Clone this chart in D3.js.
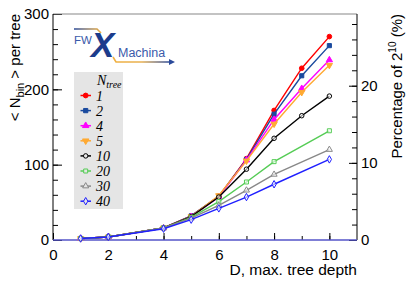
<!DOCTYPE html>
<html>
<head>
<meta charset="utf-8">
<script src="https://cdn.jsdelivr.net/npm/d3@7"></script>
<style>
body { margin:0; background:#fff; }
text { font-family: "Liberation Sans", Arial, sans-serif; }
.ax path { display:none; }
.ax line { stroke:#000; }
.ax text { font-size:15px; fill:#000; }
</style>
</head>
<body>
<script>
// tree depth on x
var depths = [1, 2, 4, 5, 6, 7, 8, 9, 10];
var nTrees = ["1", "2", "4", "5", "10", "20", "30", "40"];
// <N_bin> per tree, one array per N_tree (null = no point)
var s1  = [2, 4, 16, 32, 58, 108, 172, 228, 270];
var s2  = [2, 4, 16, 32, 58, 107, 167, 218, 258];
var s4  = [2, 4, 16, 31, 57, 106, 160, 201, 239];
var s5  = [2, 4, 16, 31, 59, 105, 154, 196, 232];
var s10 = [2, 4, 16, 31, 57, 94, 135, 165, 191];
var s20 = [2, 4, 16, 30, 51, 77, 104, null, 145];
var s30 = [2, 4, 16, 29, 46, 66, 87, null, 120];
var s40 = [2, 4, 15, 27, 42, 57, 74, null, 107];
var xTicks = [0, 2, 4, 6, 8, 10];
var yTicks = [0, 100, 200, 300];
var pTicks = [0, 10, 20];

var series = [s1, s2, s4, s5, s10, s20, s30, s40];
var colors = ["#ff0000", "#1a4a9e", "#ff00ff", "#ffaa33", "#000000", "#55cc55", "#888888", "#1f1fff"];
var shapes = [d3.symbolCircle, d3.symbolSquare, d3.symbolTriangle, d3.symbolTriangle,
              d3.symbolCircle, d3.symbolSquare, d3.symbolTriangle, d3.symbolDiamond];
var filled = [true, true, true, true, false, false, false, false];
var flip   = [0, 0, 0, 180, 0, 0, 0, 0];

var W = 411, H = 283;
var L = 53, R = 357, T = 14, B = 240;

var svg = d3.select("body").append("svg")
  .attr("width", W).attr("height", H);

var x = d3.scaleLinear().domain([0, 11]).range([L, R]);
var y = d3.scaleLinear().domain([0, 300]).range([B, T]);
var yp = d3.scaleLinear().domain([0, 300 / 1024 * 100]).range([B, T]);

// minor ticks
svg.append("g").attr("class", "ax").attr("transform", "translate(" + L + ",0)")
  .call(d3.axisRight(y).tickValues(d3.range(0, 301, 20)).tickSize(5).tickFormat(""));
svg.append("g").attr("class", "ax").attr("transform", "translate(" + L + ",0)")
  .call(d3.axisRight(y).tickValues(yTicks).tickSize(9).tickFormat(""));
svg.append("g").attr("class", "ax").attr("transform", "translate(" + (L - 1) + ",0)")
  .call(d3.axisLeft(y).tickValues(yTicks).tickSize(0).tickPadding(3));

svg.append("g").attr("class", "ax").attr("transform", "translate(0," + B + ")")
  .call(d3.axisTop(x).tickValues(d3.range(1, 11, 1)).tickSize(4).tickFormat(""));
svg.append("g").attr("class", "ax").attr("transform", "translate(0," + B + ")")
  .call(d3.axisTop(x).tickValues(xTicks).tickSize(7).tickFormat(""));
svg.append("g").attr("class", "ax").attr("transform", "translate(0," + B + ")")
  .call(d3.axisBottom(x).tickValues(xTicks).tickSize(0).tickPadding(9));

svg.append("g").attr("class", "ax").attr("transform", "translate(" + R + ",0)")
  .call(d3.axisLeft(yp).tickValues(d3.range(0, 29.3, 2)).tickSize(5).tickFormat(""));
svg.append("g").attr("class", "ax").attr("transform", "translate(" + R + ",0)")
  .call(d3.axisLeft(yp).tickValues(pTicks).tickSize(8).tickFormat(""));
svg.append("g").attr("class", "ax").attr("transform", "translate(" + R + ",0)")
  .call(d3.axisRight(yp).tickValues(pTicks).tickSize(0).tickPadding(4));

// frame
svg.append("line").attr("x1", L).attr("x2", R).attr("y1", T).attr("y2", T).attr("stroke", "#888").attr("stroke-width", 1.2);
svg.append("line").attr("x1", L).attr("x2", L).attr("y1", T).attr("y2", B).attr("stroke", "#000");
svg.append("line").attr("x1", R).attr("x2", R).attr("y1", T).attr("y2", B).attr("stroke", "#000");
svg.append("line").attr("x1", L).attr("x2", R).attr("y1", B).attr("y2", B).attr("stroke", "#5555c8").attr("stroke-width", 1.3);

// series
var line = d3.line()
  .defined(function(d) { return d.v != null; })
  .x(function(d) { return x(d.d); })
  .y(function(d) { return y(d.v); });

series.forEach(function(s, i) {
  var pts = depths.map(function(d, j) { return {d: d, v: s[j]}; })
                  .filter(function(p) { return p.v != null; });
  svg.append("path").datum(pts)
    .attr("d", line)
    .attr("fill", "none")
    .attr("stroke", colors[i])
    .attr("stroke-width", 1.4);
  svg.selectAll(".m" + i).data(pts).enter().append("path")
    .attr("transform", function(p) { return "translate(" + x(p.d) + "," + y(p.v) + ") rotate(" + flip[i] + ")"; })
    .attr("d", d3.symbol().type(shapes[i]).size(filled[i] ? 17 : 16))
    .attr("fill", filled[i] ? colors[i] : "#fff")
    .attr("fill-opacity", filled[i] ? 1 : 0.6)
    .attr("stroke", colors[i])
    .attr("stroke-width", 1);
});

// legend
var lg = svg.append("g");
lg.append("rect").attr("x", 74).attr("y", 72).attr("width", 49).attr("height", 137).attr("fill", "#e5e5e5");
var ht = lg.append("text").attr("x", 97).attr("y", 85)
  .style("font-family", "'Liberation Serif', 'DejaVu Serif', serif").style("font-style", "italic").style("font-size", "14px");
ht.append("tspan").text("N");
ht.append("tspan").attr("dy", 3).style("font-size", "10px").text("tree");

nTrees.forEach(function(n, i) {
  var ly = 95.5 + i * 15.1;
  lg.append("line").attr("x1", 80.5).attr("x2", 91).attr("y1", ly).attr("y2", ly)
    .attr("stroke", colors[i]).attr("stroke-width", 1.5);
  lg.append("path")
    .attr("transform", "translate(85.7," + ly + ") rotate(" + flip[i] + ")")
    .attr("d", d3.symbol().type(shapes[i]).size(filled[i] ? 18 : 16))
    .attr("fill", filled[i] ? colors[i] : "#e5e5e5")
    .attr("stroke", colors[i]).attr("stroke-width", 1);
  lg.append("text").attr("x", 96).attr("y", ly + 5)
    .style("font-family", "'Liberation Serif', 'DejaVu Serif', serif").style("font-style", "italic").style("font-size", "14px")
    .text(n);
});

// logo
var defs = svg.append("defs");
var gr = defs.append("linearGradient").attr("id", "g1");
gr.append("stop").attr("offset", "0").attr("stop-color", "#2a4a9a");
gr.append("stop").attr("offset", "1").attr("stop-color", "#f0b040");
var gr2 = defs.append("linearGradient").attr("id", "g2");
gr2.append("stop").attr("offset", "0").attr("stop-color", "#f0b040");
gr2.append("stop").attr("offset", "0.5").attr("stop-color", "#e8b050");
gr2.append("stop").attr("offset", "1").attr("stop-color", "#2a4a9a");
svg.append("path").attr("d", "M74,29 L97,29 L101,33").attr("fill", "none").attr("stroke", "url(#g1)").attr("stroke-width", 1.6);
svg.append("path").attr("d", "M113,57 L116,62 L170,62").attr("fill", "none").attr("stroke", "url(#g2)").attr("stroke-width", 1.6);
svg.append("path").attr("d", "M169,59 L175,62 L169,65 Z").attr("fill", "#2a4a9a");
svg.append("text").attr("x", 74).attr("y", 44).style("font-size", "11.5px").attr("fill", "#3a5aaa").text("FW");
svg.append("text").attr("x", 91).attr("y", 57).style("font-size", "35px").style("font-weight", "bold").style("font-style", "italic")
  .attr("fill", "#1c3c8c").text("X");
svg.append("text").attr("x", 118).attr("y", 57).style("font-size", "12.5px").attr("fill", "#3a5aaa").text("Machina");

// axis titles
svg.append("text").attr("transform", "translate(" + 20 + "," + T + ") rotate(-90)")
  .attr("text-anchor", "end").style("font-size", "15px")
  .html("&lt; N<tspan dy='4' font-size='11px'>bin</tspan><tspan dy='-4'> &gt; per tree</tspan>");
svg.append("text").attr("transform", "translate(" + 402 + "," + T + ") rotate(-90)")
  .attr("text-anchor", "end").style("font-size", "15px")
  .html("Percentage of 2<tspan dy='-6' font-size='10px'>10</tspan><tspan dy='6'> (%)</tspan>");
svg.append("text").attr("x", R).attr("y", 275).attr("text-anchor", "end").style("font-size", "15.5px")
  .text("D, max. tree depth");
</script>
</body>
</html>
